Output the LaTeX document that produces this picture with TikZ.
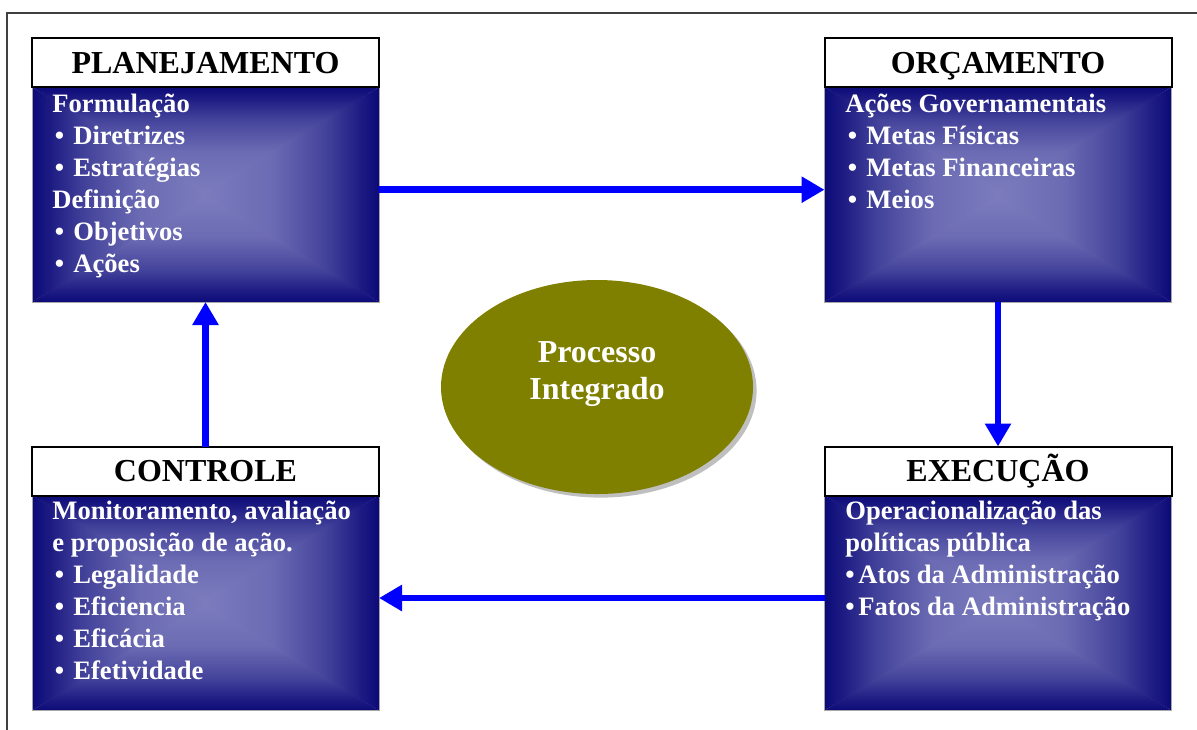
\documentclass[tikz,border=0pt]{standalone}
\usepackage{fontspec}
\setmainfont{Liberation Serif}
\usetikzlibrary{arrows.meta,shapes.geometric,shadows}

% colours of the boxes, arrows and centre
\definecolor{boxdark}{RGB}{12,10,120}
\definecolor{boxlight}{RGB}{124,124,190}
\colorlet{boxmidA}{boxlight!85!boxdark}
\colorlet{boxmidB}{boxlight!50!boxdark}
\colorlet{boxmidC}{boxlight!15!boxdark}
\definecolor{arrowblue}{RGB}{0,0,255}
\definecolor{procolive}{RGB}{128,128,0}

% light in the middle, dark at the edge
\pgfdeclareverticalshading{boxfade}{100bp}{color(0bp)=(boxlight); color(25bp)=(boxlight); color(45bp)=(boxmidA); color(60bp)=(boxmidB); color(70bp)=(boxmidC); color(75bp)=(boxdark); color(100bp)=(boxdark)}

% fill a body box from its centre out
\newcommand\shadebody[1]{%
  \shade[shading=boxfade, shading angle=90] (#1.north west) -- (#1.south west) -- ([xshift=3pt]#1.center) -- cycle;
  \shade[shading=boxfade, shading angle=270] (#1.north east) -- (#1.south east) -- ([xshift=-3pt]#1.center) -- cycle;
  \shade[shading=boxfade] (#1.north west) -- (#1.north east) -- (#1.center) -- cycle;
  \shade[shading=boxfade, shading angle=180] (#1.south west) -- (#1.south east) -- (#1.center) -- cycle;
  \draw[bodyedge] (#1.north west) rectangle (#1.south east);}

% bullets as in the boxes
\newcommand\itm{\makebox[10.5pt][l]{\hspace{1.2pt}•}}
\newcommand\itmtight{\makebox[6.5pt][l]{•}}

\begin{document}
\begin{tikzpicture}[x=0.5pt, y=-0.5pt,
  bodybox/.style={rectangle, minimum width=173.5pt, minimum height=107.5pt, inner sep=0pt, outer sep=0pt},
  bodyedge/.style={draw=gray!70, line width=0.5pt},
  headbox/.style={rectangle, draw=black, line width=1pt, fill=white, minimum width=173.5pt, minimum height=24.5pt, inner sep=0pt, outer sep=0pt, text height=10.5pt, text depth=0pt, font=\fontsize{16}{18}\selectfont\bfseries},
  bodytext/.style={anchor=north west, align=left, inner sep=0pt, text=white, font=\fontsize{13.3}{16}\selectfont\bfseries},
  procball/.style={ellipse, fill=procolive, minimum width=156pt, minimum height=107pt, inner sep=0pt, drop shadow={shadow xshift=1.8pt, shadow yshift=-1.8pt, fill=black!25, opacity=1}},
  proctext/.style={align=center, text=white, inner sep=0pt, font=\fontsize{16}{18.5}\selectfont\bfseries},
  flow/.style={draw=arrowblue, line width=3.25pt, -{Triangle[length=11.5pt, width=12.5pt]}},
  frameline/.style={draw=black!75, line width=1pt}]

\useasboundingbox (0,0) rectangle (1197,729);
\draw[frameline] (7,13) rectangle (1230,760);

% the four body boxes
\node[bodybox] (plan) at (205.5,194.5) {};
\shadebody{plan}
\node[bodybox] (orc) at (998,194.5) {};
\shadebody{orc}
\node[bodybox] (ctrl) at (205.5,603) {};
\shadebody{ctrl}
\node[bodybox] (exec) at (998,603) {};
\shadebody{exec}

% the headings
\node[headbox] (planh) at (205.5,62.5) {PLANEJAMENTO};
\node[headbox] (orch) at (998,62.5) {ORÇAMENTO};
\node[headbox] (ctrlh) at (205.5,471) {CONTROLE};
\node[headbox] (exech) at (998,471) {EXECUÇÃO};

% the texts in the boxes
\node[bodytext] (plantxt) at (52,94) {Formulação\\\itm Diretrizes\\\itm Estratégias\\Definição\\\itm Objetivos\\\itm Ações};
\node[bodytext] (orctxt) at (845,94) {Ações Governamentais\\\itm Metas Físicas\\\itm Metas Financeiras\\\itm Meios};
\node[bodytext] (ctrltxt) at (52,501) {Monitoramento, avaliação\\e proposição de ação.\\\itm Legalidade\\\itm Eficiencia\\\itm Eficácia\\\itm Efetividade};
\node[bodytext] (exectxt) at (845,501) {Operacionalização das\\políticas pública\\\itmtight Atos da Administração\\\itmtight Fatos da Administração};

% the centre
\node[procball] (proc) at (597,387) {};
\node[proctext] (proctxt) at ([yshift=6.5pt]proc.center) {Processo\\Integrado};

% the cycle
\draw[flow] ([yshift=2.4pt]plan.east) -- ([yshift=2.4pt]orc.west);
\draw[flow] (orc.south) -- (exech.north);
\draw[flow] ([yshift=2.5pt]exec.west) -- ([yshift=2.5pt]ctrl.east);
\draw[flow] (ctrlh.north) -- (plan.south);
\end{tikzpicture}
\end{document}
